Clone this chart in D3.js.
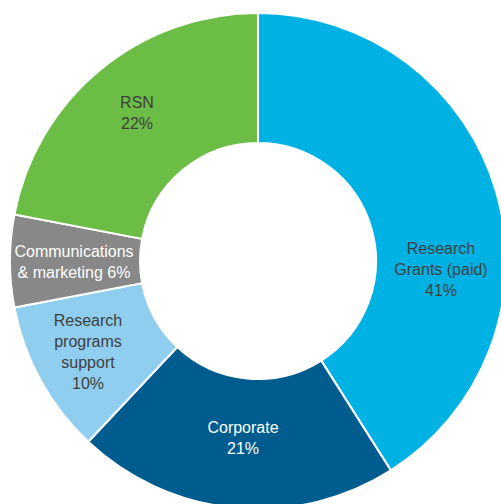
<!DOCTYPE html>
<html>
<head>
<meta charset="utf-8">
<script src="https://cdn.jsdelivr.net/npm/d3@7"></script>
<style>
  html, body { margin: 0; padding: 0; background: #fff; }
  svg { display: block; }
</style>
</head>
<body>
<svg id="chart" width="501" height="504"></svg>
<script>
// Expenditure breakdown (percent of total), clockwise from 12 o'clock
const categories = ["Research Grants (paid)", "Corporate", "Research programs support", "Communications & marketing", "RSN"];
const values = [41, 21, 10, 6, 22];
// Text lines for each slice label
const labelLines = [
  ["Research", "Grants (paid)", "41%"],
  ["Corporate", "21%"],
  ["Research", "programs", "support", "10%"],
  ["Communications", "& marketing 6%"],
  ["RSN", "22%"]
];
const colors = ["#00b2e3", "#005b8e", "#8fceee", "#888888", "#6bbd46"];
const textColors = ["#3f3f3f", "#ffffff", "#3f3f3f", "#ffffff", "#3f3f3f"];
// Label anchor (first baseline) relative to the donut centre
const labelOffsets = [[183, -7], [-15, 172], [-170, 65], [-184, -4], [-121, -153]];

const width = 501, height = 504;
const cx = 258, cy = 261;
const outerR = 248, innerR = 118;
const lineH = 21;

const svg = d3.select("#chart");
const g = svg.append("g").attr("transform", `translate(${cx},${cy})`);

const data = categories.map((c, i) => ({ name: c, value: values[i], i }));

const pie = d3.pie().value(d => d.value).sort(null);
const arc = d3.arc().innerRadius(innerR).outerRadius(outerR);

const arcs = pie(data);

g.selectAll("path.slice")
  .data(arcs)
  .join("path")
  .attr("class", "slice")
  .attr("d", arc)
  .attr("fill", d => colors[d.data.i])
  .attr("stroke", "#ffffff")
  .attr("stroke-width", 2)
  .attr("stroke-linejoin", "miter");

const labels = g.selectAll("text.lbl")
  .data(arcs)
  .join("text")
  .attr("class", "lbl")
  .attr("text-anchor", "middle")
  .attr("font-family", "'Liberation Sans', Arial, Helvetica, sans-serif")
  .attr("font-size", 16)
  .attr("fill", d => textColors[d.data.i])
  .attr("transform", d => `translate(${labelOffsets[d.data.i][0]},${labelOffsets[d.data.i][1]})`);

labels.selectAll("tspan")
  .data(d => labelLines[d.data.i])
  .join("tspan")
  .attr("x", 0)
  .attr("y", (t, j) => j * lineH)
  .text(t => t);
</script>
</body>
</html>
